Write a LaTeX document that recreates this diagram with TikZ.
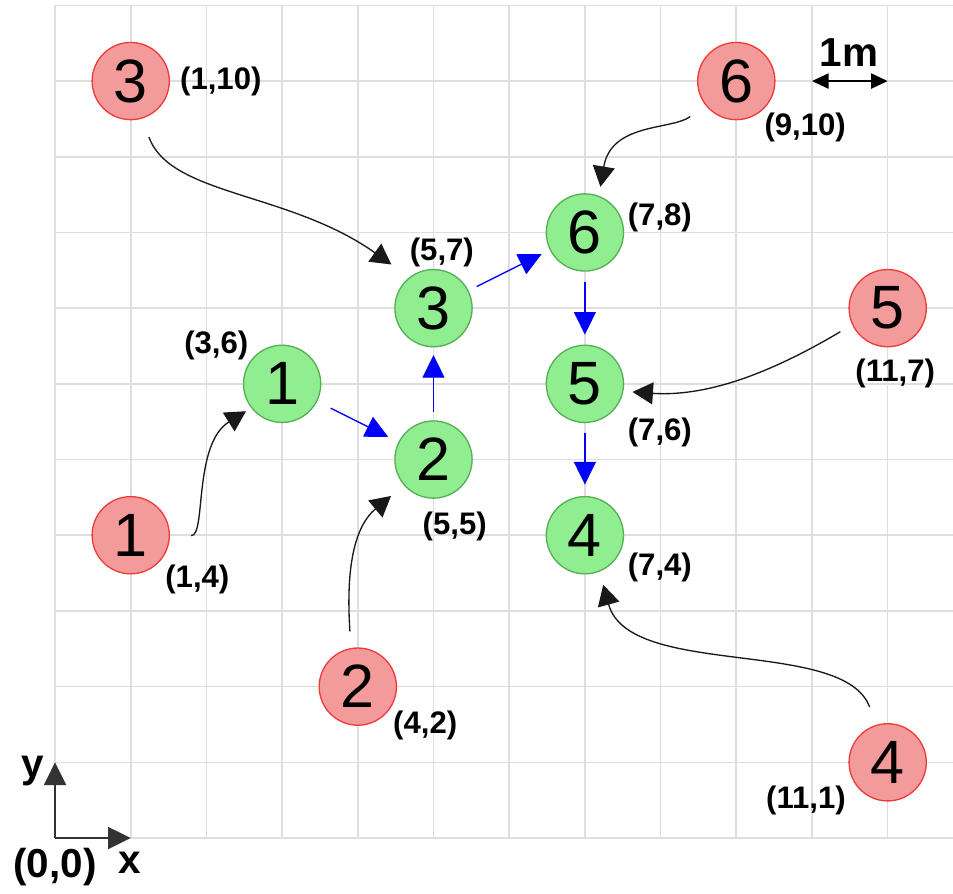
\documentclass[tikz,border=0pt]{standalone}
\usepackage{fontspec}
\setmainfont{Liberation Sans}
\usetikzlibrary{arrows.meta}
\definecolor{redfill}{RGB}{243,155,155}
\definecolor{redline}{RGB}{238,60,60}
\definecolor{greenfill}{RGB}{144,238,144}
\definecolor{greenline}{RGB}{85,175,85}
\definecolor{gridgray}{RGB}{222,222,222}
\begin{document}
\begin{tikzpicture}[x=1cm,y=1cm,
  redc/.style={circle, draw=redline, fill=redfill, line width=0.5pt, minimum size=1.02cm, inner sep=0pt, font=\fontsize{23}{23}\selectfont},
  greenc/.style={circle, draw=greenline, fill=greenfill, line width=0.5pt, minimum size=1.02cm, inner sep=0pt, font=\fontsize{23}{23}\selectfont},
  coordlbl/.style={font=\bfseries\fontsize{11.7}{12}\selectfont, inner sep=0pt, text=black},
  biglbl/.style={font=\bfseries\fontsize{15.2}{16}\selectfont, inner sep=0pt, text=black},
  flow/.style={draw=blue, line width=0.5pt, -{Triangle[length=0.3cm,width=0.29cm]}},
  feed/.style={draw=black!90, line width=0.5pt, -{Triangle[length=0.27cm,width=0.29cm]}},
  gridline/.style={draw=gridgray, line width=0.6pt},
  axisarrow/.style={draw=black!80, line width=0.75pt, -{Triangle[length=0.3cm,width=0.29cm]}},
  scalearrow/.style={draw=black, line width=0.75pt, {Triangle[length=0.22cm,width=0.2cm]}-{Triangle[length=0.22cm,width=0.2cm]}}
]
\useasboundingbox (-0.727,-0.727) rectangle (11.863,11.071);
\fill[white] (-0.727,-0.727) rectangle (11.863,11.071);
\foreach \i in {0,...,11} {
  \draw[gridline] (\i,0) -- (\i,11);
  \draw[gridline] (0,\i) -- (11.863,\i);
}
% source (red) nodes
\node[redc] (r1) at (1,4) {1};
\node[redc] (r2) at (4,2) {2};
\node[redc] (r3) at (1,10) {3};
\node[redc] (r4) at (11,1) {4};
\node[redc] (r5) at (11,7) {5};
\node[redc] (r6) at (9,10) {6};
% target (green) nodes
\node[greenc] (g1) at (3,6) {1};
\node[greenc] (g2) at (5,5) {2};
\node[greenc] (g3) at (5,7) {3};
\node[greenc] (g4) at (7,4) {4};
\node[greenc] (g5) at (7,6) {5};
\node[greenc] (g6) at (7,8) {6};
% coordinate labels
\node[coordlbl] (lr3) at (2.19,10.0) {(1,10)};
\node[coordlbl] (lr6) at (9.91,9.39) {(9,10)};
\node[coordlbl] (lg6) at (7.99,8.2) {(7,8)};
\node[coordlbl] (lg3) at (5.11,7.74) {(5,7)};
\node[coordlbl] (lg1) at (2.13,6.51) {(3,6)};
\node[coordlbl] (lg2) at (5.28,4.12) {(5,5)};
\node[coordlbl] (lg5) at (7.99,5.36) {(7,6)};
\node[coordlbl] (lg4) at (7.99,3.57) {(7,4)};
\node[coordlbl] (lr5) at (11.1,6.14) {(11,7)};
\node[coordlbl] (lr1) at (1.88,3.41) {(1,4)};
\node[coordlbl] (lr2) at (4.89,1.49) {(4,2)};
\node[coordlbl] (lr4) at (9.92,0.49) {(11,1)};
% blue flow arrows
\draw[flow, shorten <=0.2cm, shorten >=0.15cm] (g1) -- (g2);
\draw[flow, shorten <=0.11cm, shorten >=0.1cm] (g2) -- (g3);
\draw[flow, shorten <=0.12cm, shorten >=0.12cm] (g3) -- (g6);
\draw[flow, shorten <=0.14cm, shorten >=0.13cm] (g6) -- (g5);
\draw[flow, shorten <=0.13cm, shorten >=0.15cm] (g5) -- (g4);
% black curved arrows
\draw[feed, shorten <=0.26cm, shorten >=0.29cm] (r3.-73) .. controls +(0.37,-1.02) and +(-1.59,1.13) .. (g3.128);
\draw[feed, shorten <=0.28cm, shorten >=0.08cm] (r1.0) .. controls +(0.48,-0.01) and +(-0.77,-0.48) .. (g1.218);
\draw[feed, shorten <=0.22cm, shorten >=0.22cm] (r2.100) .. controls +(-0.07,1.07) and +(-0.65,-0.54) .. (g2.221);
\draw[feed, shorten <=0.25cm, shorten >=0.18cm] (r4.107) .. controls +(-0.43,1.16) and +(0.39,-1.42) .. (g4.-68);
\draw[feed, shorten <=0.18cm, shorten >=0.12cm] (r5.205) .. controls +(-0.96,-0.57) and +(1.17,-0.08) .. (g5.-11);
\draw[feed, shorten <=0.25cm, shorten >=0.12cm] (r6.218) .. controls +(-0.44,-0.33) and +(0.16,0.97) .. (g6.69);
% axes
\coordinate (o) at (0,0);
\coordinate (ox) at (1,0);
\coordinate (oy) at (0,1);
\draw[axisarrow] (o) -- (ox);
\draw[axisarrow] (o) -- (oy);
\node[biglbl] (xl) at (0.99,-0.33) {x};
\node[biglbl] (yl) at (-0.30,0.885) {y};
\node[biglbl] (ol) at (0,-0.38) {(0,0)};
% scale
\coordinate (m1) at (10,10);
\coordinate (m2) at (11,10);
\draw[scalearrow] (m1) -- (m2);
\node[biglbl] (ml) at (10.49,10.37) {1m};
\end{tikzpicture}
\end{document}
